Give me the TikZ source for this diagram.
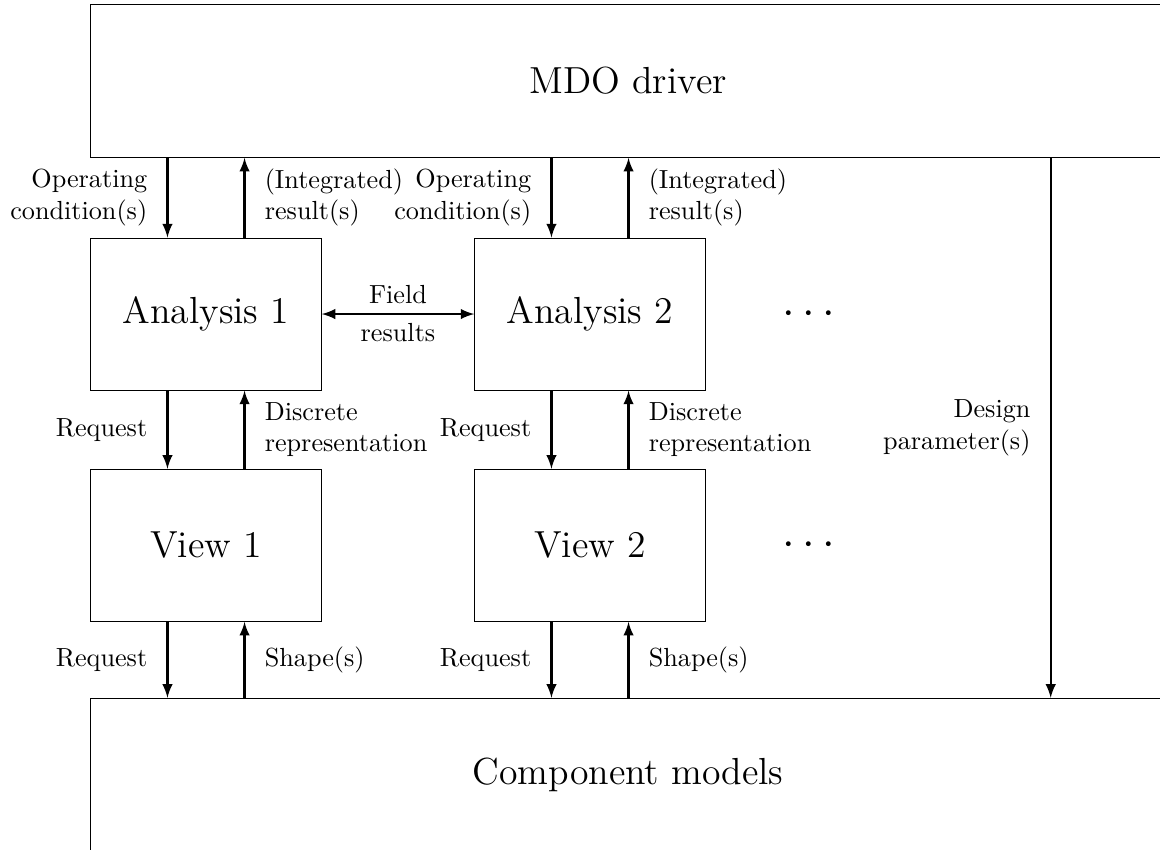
\documentclass[tikz,border=0pt]{standalone}
\usepackage{amsmath}
\usepackage{tikz}
\usetikzlibrary{calc,positioning}

\begin{document}
\begin{tikzpicture}[
                >=latex,
                every node/.style={align=center},
                module/.style={draw, thin, minimum width=3.09cm, minimum height=2.04cm, inner sep=0pt, font=\Large},
                frame/.style={draw, thin, minimum width=14.42cm, minimum height=2.05cm, inner sep=0pt, font=\Large},
                link/.style={draw, thick},
                dots/.style={font=\LARGE, inner sep=0pt}
            ]

            \path[use as bounding box, clip] (0,0) rectangle (15.57,-11.40);

            % draw the analyses and views
            \node[module] at (2.765,-4.215) (a1) {Analysis 1};
            \node[module, right=2.05cm of a1] (a2) {Analysis 2};
            \node[module, below=1.05cm of a1] (v1) {View 1};
            \node[module, below=1.05cm of a2] (v2) {View 2};

            \node[frame, above=1.07cm of a1.north west, anchor=south west] (mdo) {MDO driver};
            \node[frame, below=1.02cm of v1.south west, anchor=north west] (comp) {Component models};

            \node[dots] at ($(a2.east)+(1.44,0)$) (more1) {$\cdots$};
            \node[dots] at ($(v2.east)+(1.44,0)$) (more2) {$\cdots$};

            % request / response links
            \foreach \n in {1,2} {
                \coordinate (dn\n) at ($(a\n.north west)!1/3!(a\n.north east)$);
                \coordinate (up\n) at ($(a\n.north west)!2/3!(a\n.north east)$);

                \path[link,->] (dn\n |- mdo.south) -- (dn\n |- a\n.north)
                    node[midway, left=4pt, align=right] {Operating\\condition(s)};
                \path[link,<-] (up\n |- mdo.south) -- (up\n |- a\n.north)
                    node[midway, right=4pt, align=left] {(Integrated)\\result(s)};

                \path[link,->] (dn\n |- a\n.south) -- (dn\n |- v\n.north)
                    node[midway, left=4pt, align=right] {Request};
                \path[link,<-] (up\n |- a\n.south) -- (up\n |- v\n.north)
                    node[midway, right=4pt, align=left] {Discrete\\representation};

                \path[link,->] (dn\n |- v\n.south) -- (dn\n |- comp.north)
                    node[midway, left=4pt, align=right] {Request};
                \path[link,<-] (up\n |- v\n.south) -- (up\n |- comp.north)
                    node[midway, right=4pt, align=left] {Shape(s)};
            }

            \path[link,<->] (a1) -- (a2) node[midway, above] {Field} node[midway, below] {results};

            \coordinate (dp) at ($(mdo.south west)!.893!(mdo.south east)$);
            \path[link,->] (dp) -- (dp |- comp.north)
                node[midway, left=4pt, align=right] {Design\\parameter(s)};
        \end{tikzpicture}
\end{document}
